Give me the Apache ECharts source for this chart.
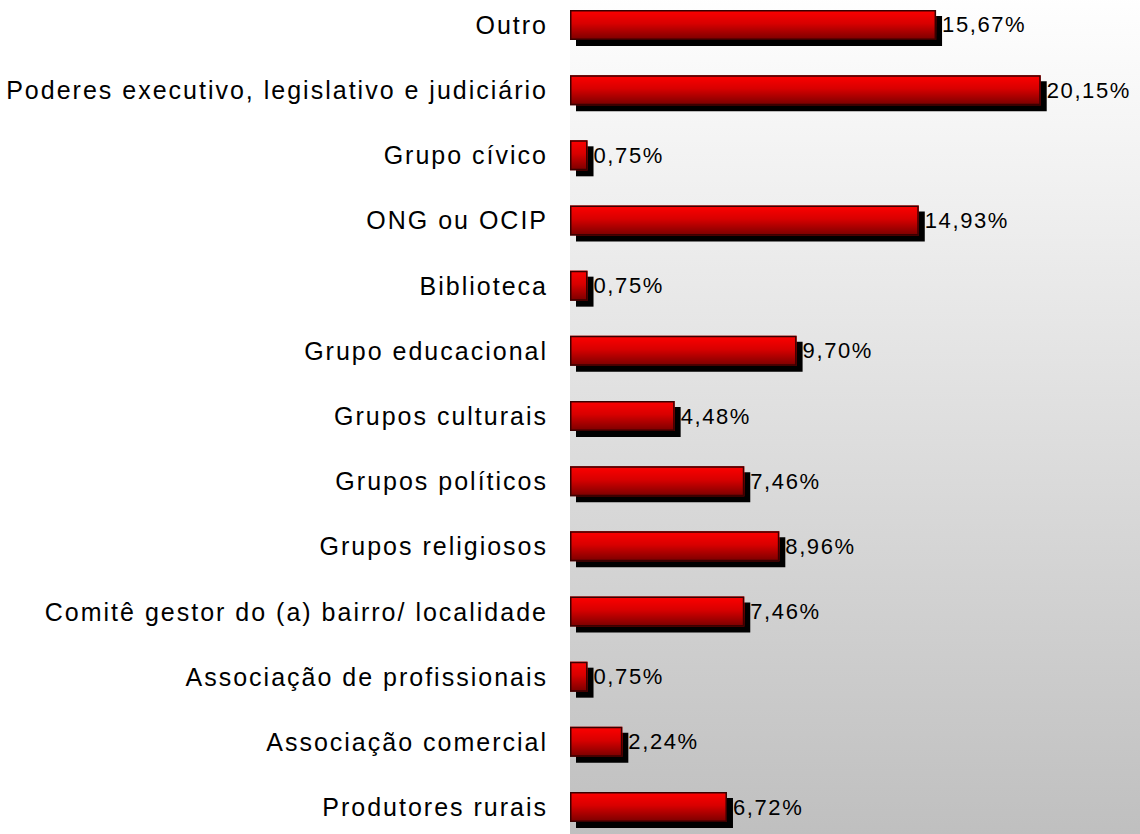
<!DOCTYPE html>
<html>
<head>
<meta charset="utf-8">
<title>Participação por tipo de organização</title>
<script src="https://cdn.jsdelivr.net/npm/echarts@6/dist/echarts.min.js"></script>
<style>
  html, body { margin: 0; padding: 0; background: #ffffff; }
  #chart { width: 1140px; height: 834px; }
  /* wide-set lettering for the labels */
  #chart svg text { letter-spacing: 1.6px; }
  #chart svg text[style*="25px"] { letter-spacing: 2px; }
</style>
</head>
<body>
<div id="chart"></div>
<script>
// Organization types, listed top to bottom
const categories = [
  'Outro',
  'Poderes executivo, legislativo e judiciário',
  'Grupo cívico',
  'ONG ou OCIP',
  'Biblioteca',
  'Grupo educacional',
  'Grupos culturais',
  'Grupos políticos',
  'Grupos religiosos',
  'Comitê gestor do (a) bairro/ localidade',
  'Associação de profissionais',
  'Associação comercial',
  'Produtores rurais'
];

// Share of respondents (%)
const shares = [15.67, 20.15, 0.75, 14.93, 0.75, 9.70, 4.48, 7.46, 8.96, 7.46, 0.75, 2.24, 6.72];

const chart = echarts.init(document.getElementById('chart'), null, { renderer: 'svg' });

const fmt = v => v.toFixed(2).replace('.', ',') + '%';
const font = 'Liberation Sans, Arial, sans-serif';

chart.setOption({
  animation: false,
  backgroundColor: '#ffffff',
  grid: {
    left: 570,
    right: 0,
    top: -7.6,
    bottom: -5.6,
    outerBoundsMode: 'none',
    containLabel: false,
    show: true,
    borderWidth: 0,
    backgroundColor: new echarts.graphic.LinearGradient(0, 0, 0, 1, [
      { offset: 0, color: '#ffffff' },
      { offset: 1, color: '#bfbfbf' }
    ])
  },
  xAxis: {
    type: 'value',
    min: 0,
    max: 24.4,
    show: false,
    splitLine: { show: false }
  },
  yAxis: {
    type: 'category',
    inverse: true,
    data: categories,
    axisLine: { show: false },
    axisTick: { show: false },
    axisLabel: {
      margin: 22,
      color: '#000000',
      fontFamily: font,
      fontSize: 25
    }
  },
  series: [
    {
      // gradient body with hard drop shadow
      type: 'bar',
      data: shares,
      barWidth: 30,
      z: 2,
      itemStyle: {
        color: new echarts.graphic.LinearGradient(0, 0, 0, 1, [
          { offset: 0, color: '#ff0000' },
          { offset: 0.45, color: '#d80000' },
          { offset: 1, color: '#780000' }
        ]),
        borderWidth: 0,
        shadowColor: '#000000',
        shadowBlur: 0,
        shadowOffsetX: 6,
        shadowOffsetY: 6
      }
    },
    {
      // outline drawn over the body, carrying the value labels
      type: 'bar',
      data: shares,
      barWidth: 30,
      barGap: '-100%',
      z: 3,
      itemStyle: {
        color: 'rgba(0,0,0,0)',
        borderColor: '#3a0000',
        borderWidth: 1.5
      },
      label: {
        show: true,
        position: 'right',
        distance: 6,
        color: '#000000',
        fontFamily: font,
        fontSize: 22,
        formatter: p => fmt(p.value)
      }
    }
  ]
});
</script>
</body>
</html>
